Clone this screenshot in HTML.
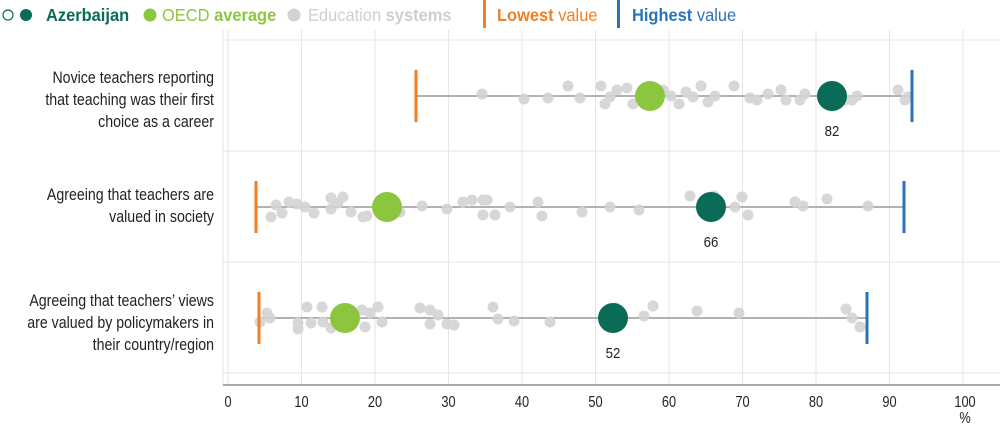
<!DOCTYPE html>
<html><head><meta charset="utf-8"><style>
body{margin:0;background:#fff;}
svg{display:block;font-family:"Liberation Sans",sans-serif;}
</style></head><body>
<svg width="1000" height="424" viewBox="0 0 1000 424" xmlns="http://www.w3.org/2000/svg">
<!-- legend -->
<circle cx="8" cy="15" r="5" fill="#fff" stroke="#0a6b56" stroke-width="1.2"/>
<circle cx="26" cy="15" r="6" fill="#0a6b56"/>
<g transform="translate(46,21) scale(0.94,1)"><text font-size="17.5" font-weight="bold" fill="#0a6b56">Azerbaijan</text></g>
<circle cx="150" cy="15" r="6.5" fill="#8cc63f"/>
<g transform="translate(162,21) scale(0.94,1)"><text font-size="17.5" fill="#8cc63f">OECD <tspan font-weight="bold">average</tspan></text></g>
<circle cx="294" cy="15" r="6.5" fill="#d3d3d3"/>
<g transform="translate(308,21) scale(0.94,1)"><text font-size="17.5" fill="#cfcfcf">Education <tspan font-weight="bold">systems</tspan></text></g>
<rect x="483" y="0" width="3" height="28" fill="#f07f26"/>
<g transform="translate(497,21) scale(0.94,1)"><text font-size="17.5" fill="#f07f26"><tspan font-weight="bold">Lowest</tspan> value</text></g>
<rect x="617" y="0" width="3" height="28" fill="#2a73b8"/>
<g transform="translate(632,21) scale(0.94,1)"><text font-size="17.5" fill="#2a73b8"><tspan font-weight="bold">Highest</tspan> value</text></g>

<!-- grid -->
<g stroke="#e6e6e6" stroke-width="1">
<line x1="223" y1="30" x2="223" y2="385"/>
<line x1="228" y1="30" x2="228" y2="385"/>
<line x1="301.5" y1="30" x2="301.5" y2="385"/>
<line x1="375" y1="30" x2="375" y2="385"/>
<line x1="448.5" y1="30" x2="448.5" y2="385"/>
<line x1="522" y1="30" x2="522" y2="385"/>
<line x1="595.5" y1="30" x2="595.5" y2="385"/>
<line x1="669" y1="30" x2="669" y2="385"/>
<line x1="742.5" y1="30" x2="742.5" y2="385"/>
<line x1="816" y1="30" x2="816" y2="385"/>
<line x1="889.5" y1="30" x2="889.5" y2="385"/>
<line x1="963" y1="30" x2="963" y2="385"/>
<line x1="223" y1="40" x2="1000" y2="40"/>
<line x1="223" y1="151" x2="1000" y2="151"/>
<line x1="223" y1="262" x2="1000" y2="262"/>
<line x1="223" y1="373" x2="1000" y2="373"/>
</g>
<line x1="223" y1="385" x2="1000" y2="385" stroke="#aaa" stroke-width="2"/>

<!-- axis labels -->
<g font-size="16" fill="#222" text-anchor="middle">
<g transform="translate(228,407) scale(0.8,1)"><text>0</text></g>
<g transform="translate(301.5,407) scale(0.8,1)"><text>10</text></g>
<g transform="translate(375,407) scale(0.8,1)"><text>20</text></g>
<g transform="translate(448.5,407) scale(0.8,1)"><text>30</text></g>
<g transform="translate(522,407) scale(0.8,1)"><text>40</text></g>
<g transform="translate(595.5,407) scale(0.8,1)"><text>50</text></g>
<g transform="translate(669,407) scale(0.8,1)"><text>60</text></g>
<g transform="translate(742.5,407) scale(0.8,1)"><text>70</text></g>
<g transform="translate(816,407) scale(0.8,1)"><text>80</text></g>
<g transform="translate(889.5,407) scale(0.8,1)"><text>90</text></g>
<g transform="translate(965,407) scale(0.8,1)"><text>100</text></g>
<g transform="translate(965,423) scale(0.8,1)"><text>%</text></g>
</g>

<!-- row labels -->
<g font-size="16.5" fill="#222" text-anchor="end">
<g transform="translate(214,0) scale(0.86,1)">
<text x="0" y="83">Novice teachers reporting</text>
<text x="0" y="105">that teaching was their first</text>
<text x="0" y="127">choice as a career</text>
<text x="0" y="200">Agreeing that teachers are</text>
<text x="0" y="222">valued in society</text>
<text x="0" y="306">Agreeing that teachers’ views</text>
<text x="0" y="328">are valued by policymakers in</text>
<text x="0" y="350">their country/region</text>
</g></g>

<!-- range lines -->
<g stroke="#999" stroke-width="1.5">
<line x1="416" y1="96" x2="912" y2="96"/>
<line x1="256" y1="207" x2="904" y2="207"/>
<line x1="259" y1="318" x2="867" y2="318"/>
</g>

<!-- gray dots -->
<g fill="#d3d3d3" opacity="0.9">
<circle cx="482" cy="94" r="5.5"/><circle cx="524" cy="99" r="5.5"/><circle cx="548" cy="98" r="5.5"/><circle cx="568" cy="86" r="5.5"/><circle cx="580" cy="98" r="5.5"/><circle cx="601" cy="86" r="5.5"/><circle cx="605" cy="104" r="5.5"/><circle cx="610" cy="97" r="5.5"/><circle cx="617" cy="90" r="5.5"/><circle cx="627" cy="88" r="5.5"/><circle cx="633" cy="104" r="5.5"/><circle cx="640" cy="99" r="5.5"/><circle cx="663" cy="90" r="5.5"/><circle cx="671" cy="96" r="5.5"/><circle cx="679" cy="104" r="5.5"/><circle cx="686" cy="92" r="5.5"/><circle cx="693" cy="97" r="5.5"/><circle cx="701" cy="86" r="5.5"/><circle cx="708" cy="102" r="5.5"/><circle cx="715" cy="96" r="5.5"/><circle cx="734" cy="86" r="5.5"/><circle cx="750" cy="98" r="5.5"/><circle cx="757" cy="100" r="5.5"/><circle cx="768" cy="94" r="5.5"/><circle cx="781" cy="90" r="5.5"/><circle cx="786" cy="100" r="5.5"/><circle cx="800" cy="100" r="5.5"/><circle cx="805" cy="94" r="5.5"/><circle cx="845" cy="100" r="5.5"/><circle cx="852" cy="100" r="5.5"/><circle cx="857" cy="96" r="5.5"/><circle cx="898" cy="90" r="5.5"/><circle cx="905" cy="100" r="5.5"/><circle cx="908" cy="97" r="5.5"/>

<circle cx="276" cy="205" r="5.5"/><circle cx="271" cy="217" r="5.5"/><circle cx="282" cy="213" r="5.5"/><circle cx="289" cy="202" r="5.5"/><circle cx="297" cy="204" r="5.5"/><circle cx="305" cy="207" r="5.5"/><circle cx="314" cy="213" r="5.5"/><circle cx="331" cy="198" r="5.5"/><circle cx="331" cy="209" r="5.5"/><circle cx="343" cy="197" r="5.5"/><circle cx="338" cy="203" r="5.5"/><circle cx="351" cy="212" r="5.5"/><circle cx="363" cy="217" r="5.5"/><circle cx="367" cy="216" r="5.5"/><circle cx="400" cy="212" r="5.5"/><circle cx="422" cy="206" r="5.5"/><circle cx="447" cy="209" r="5.5"/><circle cx="463" cy="202" r="5.5"/><circle cx="472" cy="200" r="5.5"/><circle cx="483" cy="200" r="5.5"/><circle cx="487" cy="200" r="5.5"/><circle cx="483" cy="215" r="5.5"/><circle cx="495" cy="215" r="5.5"/><circle cx="510" cy="207" r="5.5"/><circle cx="538" cy="202" r="5.5"/><circle cx="542" cy="216" r="5.5"/><circle cx="582" cy="212" r="5.5"/><circle cx="610" cy="207" r="5.5"/><circle cx="639" cy="210" r="5.5"/><circle cx="690" cy="196" r="5.5"/><circle cx="714" cy="196" r="5.5"/><circle cx="735" cy="207" r="5.5"/><circle cx="742" cy="197" r="5.5"/><circle cx="748" cy="215" r="5.5"/><circle cx="795" cy="202" r="5.5"/><circle cx="803" cy="206" r="5.5"/><circle cx="827" cy="199" r="5.5"/><circle cx="868" cy="206" r="5.5"/>

<circle cx="267" cy="313" r="5.5"/><circle cx="260" cy="322" r="5.5"/><circle cx="270" cy="318" r="5.5"/><circle cx="298" cy="323" r="5.5"/><circle cx="298" cy="329" r="5.5"/><circle cx="307" cy="307" r="5.5"/><circle cx="311" cy="323" r="5.5"/><circle cx="322" cy="307" r="5.5"/><circle cx="323" cy="322" r="5.5"/><circle cx="331" cy="328" r="5.5"/><circle cx="362" cy="310" r="5.5"/><circle cx="365" cy="327" r="5.5"/><circle cx="370" cy="313" r="5.5"/><circle cx="378" cy="307" r="5.5"/><circle cx="382" cy="322" r="5.5"/><circle cx="420" cy="308" r="5.5"/><circle cx="430" cy="310" r="5.5"/><circle cx="438" cy="315" r="5.5"/><circle cx="430" cy="324" r="5.5"/><circle cx="447" cy="324" r="5.5"/><circle cx="454" cy="325" r="5.5"/><circle cx="493" cy="307" r="5.5"/><circle cx="498" cy="319" r="5.5"/><circle cx="514" cy="321" r="5.5"/><circle cx="550" cy="322" r="5.5"/><circle cx="616" cy="308" r="5.5"/><circle cx="644" cy="316" r="5.5"/><circle cx="653" cy="306" r="5.5"/><circle cx="697" cy="311" r="5.5"/><circle cx="739" cy="313" r="5.5"/><circle cx="846" cy="309" r="5.5"/><circle cx="852" cy="318" r="5.5"/><circle cx="860" cy="327" r="5.5"/>
</g>

<!-- low/high markers -->
<rect x="414.5" y="70" width="3" height="52" fill="#f07f26"/>
<rect x="910.5" y="70" width="3" height="52" fill="#2a73b8"/>
<rect x="254.5" y="181" width="3" height="52" fill="#f07f26"/>
<rect x="902.5" y="181" width="3" height="52" fill="#2a73b8"/>
<rect x="257.5" y="292" width="3" height="52" fill="#f07f26"/>
<rect x="865.5" y="292" width="3" height="52" fill="#2a73b8"/>

<!-- OECD -->
<circle cx="650" cy="96" r="15" fill="#8cc63f"/>
<circle cx="387" cy="207" r="15" fill="#8cc63f"/>
<circle cx="345" cy="318" r="15" fill="#8cc63f"/>
<!-- Azerbaijan -->
<circle cx="832" cy="96" r="15" fill="#0a6b56"/>
<circle cx="711" cy="207" r="15" fill="#0a6b56"/>
<circle cx="613" cy="318" r="15" fill="#0a6b56"/>

<g font-size="15" fill="#222" text-anchor="middle">
<g transform="translate(832,136) scale(0.88,1)"><text>82</text></g>
<g transform="translate(711,247) scale(0.88,1)"><text>66</text></g>
<g transform="translate(613,358) scale(0.88,1)"><text>52</text></g>
</g>
</svg>
</body></html>
